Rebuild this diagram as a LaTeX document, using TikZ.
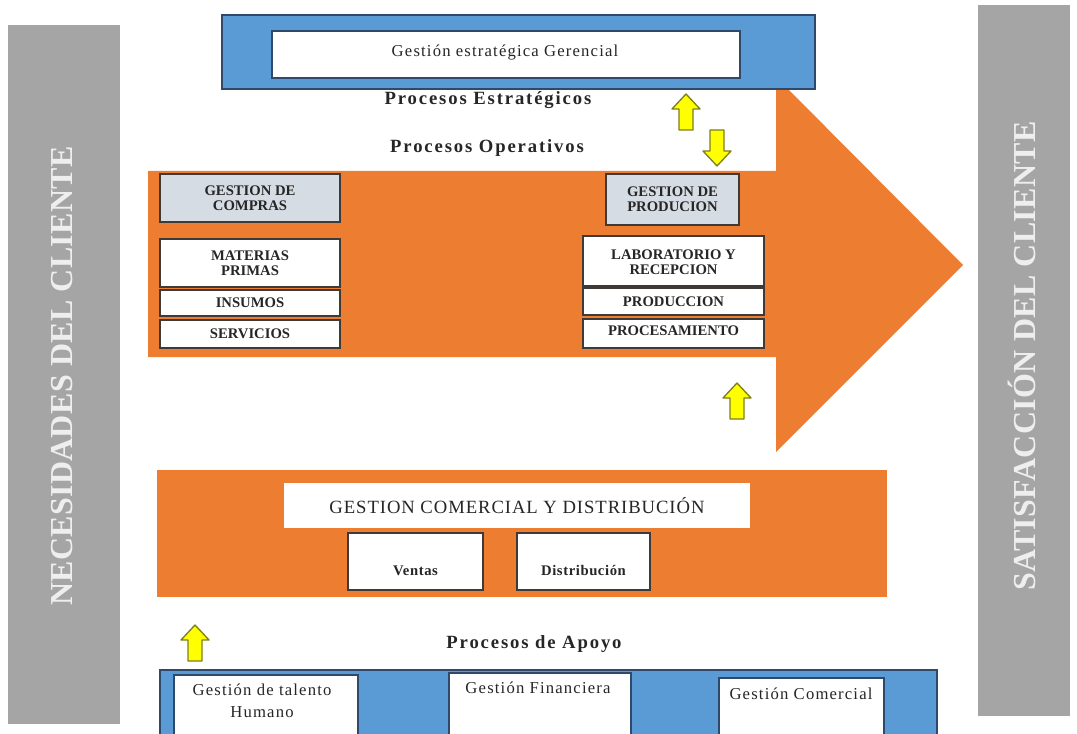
\documentclass[tikz,border=0pt]{standalone}
\usepackage{fontspec}
\setmainfont{Liberation Serif}
\usetikzlibrary{fit}
\definecolor{orangeA}{HTML}{ED7D31}
\definecolor{blueA}{HTML}{5B9BD5}
\definecolor{blueB}{HTML}{2E4A6B}
\definecolor{grayA}{HTML}{A5A5A5}
\definecolor{grayT}{HTML}{EEEEEE}
\definecolor{lightA}{HTML}{D6DCE4}
\definecolor{borderA}{HTML}{3F3A36}
\definecolor{textA}{HTML}{262626}
\definecolor{yellA}{HTML}{FFFF00}
\definecolor{yellB}{HTML}{7F7F1A}
\newcommand{\yUpAt}[2]{\draw[yarrow] (#1,#2-18) -- (#1+14,#2-3) -- (#1+7,#2-3) -- (#1+7,#2+18) -- (#1-7,#2+18) -- (#1-7,#2-3) -- (#1-14,#2-3) -- cycle;}
\newcommand{\yDownAt}[2]{\draw[yarrow] (#1,#2+18) -- (#1+14,#2+3) -- (#1+7,#2+3) -- (#1+7,#2-18) -- (#1-7,#2-18) -- (#1-7,#2+3) -- (#1-14,#2+3) -- cycle;}
\tikzset{
  yarrow/.style={fill=yellA, draw=yellB, line width=1pt, line join=round},
  graybar/.style={fill=grayA, draw=none, inner sep=0},
  bartext/.style={rotate=90, text=grayT, font=\bfseries\fontsize{24}{26}\selectfont\addfontfeatures{LetterSpace=1}},
  bluebox/.style={fill=blueA, draw=blueB, line width=1.2pt, inner sep=0},
  whitebox/.style={fill=white, draw=blueB, line width=1.2pt, inner sep=0},
  colbox/.style={fill=white, draw=borderA, line width=1.6pt, inner sep=0},
  gbox/.style={colbox, fill=lightA},
  coltext/.style={align=center, text=textA, inner sep=0,
    font=\fontsize{11}{11.5}\selectfont\bfseries},
  head/.style={text=textA, font=\fontsize{14}{16}\selectfont\bfseries\addfontfeatures{LetterSpace=10}},
  small/.style={text=textA, align=center, font=\fontsize{12.5}{17}\selectfont\addfontfeatures{LetterSpace=7}},
  midbox/.style={fill=white, draw=borderA, line width=1.4pt, inner sep=0},
  midtext/.style={text=textA, font=\fontsize{11}{12}\selectfont\bfseries\addfontfeatures{LetterSpace=4}},
}
\begin{document}
\begin{tikzpicture}[x=0.75pt, y=-0.75pt]
\useasboundingbox (0,0) rectangle (1077,734);
\clip (0,0) rectangle (1077,734);
% side bars
\node[graybar, fit={(8,25) (120,724)}] (left) {};
\node[bartext] (lefttext) at (62,376) {NECESIDADES DEL CLIENTE};
\node[graybar, fit={(978,5) (1070,716)}] (right) {};
\node[bartext] (righttext) at (1022,356) {SATISFACCIÓN DEL CLIENTE};
% big orange arrow
\fill[orangeA] (148,171) -- (776,171) -- (776,77) -- (963,265) -- (776,452) -- (776,357) -- (148,357) -- cycle;
% strategic
\node[bluebox, fit={(222,15) (815,89)}] (strat) {};
\node[whitebox, fit={(272,31) (740,78)}] (gest) {};
\node[small] (gesttext) at (505,53) {Gestión estratégica Gerencial};
\node[head] (pe) at (488,100) {Procesos Estratégicos};
\node[head] (po) at (487,148) {Procesos Operativos};
% left column
\node[gbox, fit={(160,174) (340,222)}] (compras) {};
\node[coltext] at (compras.center) {GESTION DE\\COMPRAS};
\node[colbox, fit={(160,239) (340,287)}] (mat) {};
\node[coltext] at (mat.center) {MATERIAS\\PRIMAS};
\node[colbox, fit={(160,290) (340,316)}] (ins) {};
\node[coltext] at (ins.center) {INSUMOS};
\node[colbox, fit={(160,320) (340,348)}] (serv) {};
\node[coltext] at (serv.center) {SERVICIOS};
% right column
\node[gbox, fit={(606,174) (739,225)}] (gprod) {};
\node[coltext] at (gprod.center) {GESTION DE\\PRODUCION};
\node[colbox, fit={(583,236) (764,286)}] (lab) {};
\node[coltext] at ([yshift=-1pt]lab.center) {LABORATORIO Y\\RECEPCION};
\node[colbox, fit={(583,288) (764,315)}] (prod) {};
\node[coltext] at (prod.center) {PRODUCCION};
\node[colbox, fit={(583,319) (764,348)}] (proc) {};
\node[coltext] at ([yshift=2pt]proc.center) {PROCESAMIENTO};
% yellow arrows
\yUpAt{686}{112}
\yDownAt{717}{148}
\yUpAt{737}{401}
\yUpAt{195}{643}
% commercial
\node[fill=orangeA, inner sep=0, fit={(157,470) (887,597)}] (com) {};
\node[fill=white, inner sep=0, fit={(284,483) (750,528)}] (gcom) {};
\node[text=textA, font=\fontsize{14}{16}\selectfont\addfontfeatures{LetterSpace=5}] at (gcom.center) {GESTION COMERCIAL Y DISTRIBUCIÓN};
\node[midbox, fit={(348,533) (483,590)}] (ventas) {};
\node[midtext] at ([yshift=-7pt]ventas.center) {Ventas};
\node[midbox, fit={(517,533) (650,590)}] (dist) {};
\node[midtext] at ([yshift=-7pt]dist.center) {Distribución};
% support
\node[head] (pa) at (534,644) {Procesos de Apoyo};
\node[bluebox, fit={(160,670) (937,745)}] (apoyo) {};
\node[whitebox, fit={(174,675) (358,745)}] (tal) {};
\node[small, anchor=north] at (262,679) {Gestión de talento\\Humano};
\node[whitebox, fit={(449,673) (631,745)}] (fin) {};
\node[small, anchor=north] at (538,677) {Gestión Financiera};
\node[whitebox, fit={(719,678) (884,745)}] (gc) {};
\node[small, anchor=north] at (801,683) {Gestión Comercial};
\end{tikzpicture}
\end{document}
